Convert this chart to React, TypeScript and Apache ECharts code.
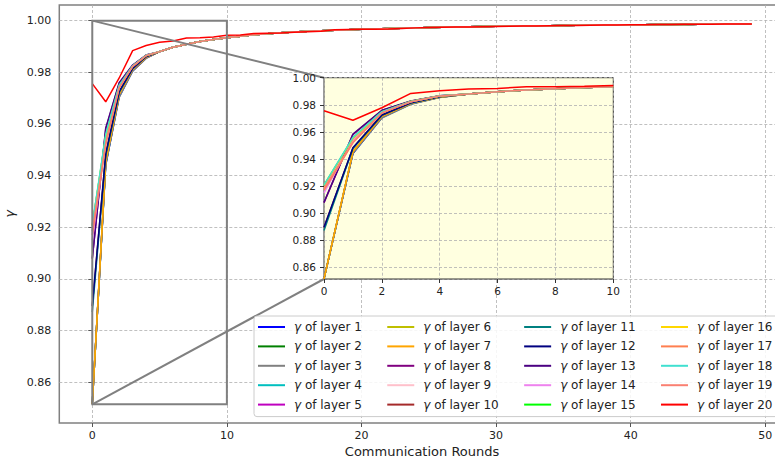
import React, { useEffect, useRef } from "react";
import * as echarts from "echarts";

// ---------- data ----------
const ROUNDS = Array.from({ length: 50 }, (_, i) => i);

const LAYER_NAMES = [
  "γ of layer 1", "γ of layer 2", "γ of layer 3", "γ of layer 4", "γ of layer 5",
  "γ of layer 6", "γ of layer 7", "γ of layer 8", "γ of layer 9", "γ of layer 10",
  "γ of layer 11", "γ of layer 12", "γ of layer 13", "γ of layer 14", "γ of layer 15",
  "γ of layer 16", "γ of layer 17", "γ of layer 18", "γ of layer 19", "γ of layer 20",
];

const LAYER_COLORS = [
  "#0000ff", "#008000", "#808080", "#00bfbf", "#bf00bf",
  "#bfbf00", "#ffa500", "#800080", "#ffc0cb", "#a52a2a",
  "#008080", "#000080", "#4b0082", "#ee82ee", "#00ff00",
  "#ffd700", "#ff7f50", "#40e0d0", "#fa8072", "#ff0000",
];

// rounds 0..4 for layers 1..19
const LAYER_HEADS = [
  [0.8516, 0.9440, 0.9705, 0.9805, 0.9855],
  [0.8516, 0.9445, 0.9708, 0.9807, 0.9856],
  [0.8516, 0.9442, 0.9703, 0.9804, 0.9854],
  [0.8516, 0.9448, 0.9710, 0.9808, 0.9857],
  [0.8516, 0.9450, 0.9712, 0.9809, 0.9857],
  [0.8516, 0.9452, 0.9714, 0.9810, 0.9858],
  [0.8516, 0.9455, 0.9715, 0.9811, 0.9858],
  [0.9078, 0.9580, 0.9758, 0.9827, 0.9867],
  [0.9183, 0.9522, 0.9741, 0.9823, 0.9865],
  [0.8894, 0.9482, 0.9724, 0.9815, 0.9861],
  [0.8872, 0.9478, 0.9722, 0.9814, 0.9860],
  [0.8896, 0.9484, 0.9725, 0.9815, 0.9861],
  [0.9080, 0.9585, 0.9760, 0.9828, 0.9867],
  [0.9150, 0.9540, 0.9745, 0.9823, 0.9865],
  [0.9205, 0.9555, 0.9748, 0.9824, 0.9865],
  [0.9208, 0.9552, 0.9747, 0.9824, 0.9865],
  [0.9170, 0.9520, 0.9740, 0.9822, 0.9864],
  [0.9210, 0.9560, 0.9750, 0.9825, 0.9866],
  [0.9185, 0.9525, 0.9742, 0.9823, 0.9865],
];

// rounds 5..49, shared by layers 1..19 (indistinguishable in the picture)
const COMMON_TAIL = [
  0.9880, 0.9897, 0.9909, 0.9919, 0.9927, 0.9934, 0.9940, 0.9945, 0.9949, 0.9953,
  0.9956, 0.9959, 0.9961, 0.9963, 0.9965, 0.9967, 0.9968, 0.9970, 0.9971, 0.9972,
  0.9973, 0.9974, 0.9975, 0.9976, 0.9977, 0.9978, 0.9978, 0.9979, 0.9980, 0.9980,
  0.9981, 0.9982, 0.9982, 0.9983, 0.9983, 0.9984, 0.9984, 0.9985, 0.9985, 0.9985,
  0.9986, 0.9986, 0.9986, 0.9987, 0.9987,
];

// layer 20, rounds 0..49
const LAYER_20 = [
  0.9756, 0.9686, 0.9778, 0.9884, 0.9904, 0.9916, 0.9921, 0.9933, 0.9934, 0.9937,
  0.9943, 0.9944, 0.9950, 0.9951, 0.9952, 0.9955, 0.9957, 0.9959, 0.9965, 0.9966,
  0.9967, 0.9967, 0.9968, 0.9970, 0.9972, 0.9973, 0.9974, 0.9975, 0.9975, 0.9976,
  0.9977, 0.9978, 0.9979, 0.9979, 0.9980, 0.9981, 0.9981, 0.9982, 0.9983, 0.9983,
  0.9984, 0.9984, 0.9985, 0.9985, 0.9986, 0.9986, 0.9986, 0.9987, 0.9987, 0.9987,
];

const X_TICKS = [0, 10, 20, 30, 40, 50];
const Y_TICKS = [0.86, 0.88, 0.9, 0.92, 0.94, 0.96, 0.98, 1.0];
const INSET_Y_TICKS = [0.86, 0.88, 0.9, 0.92, 0.94, 0.96, 0.98, 1.0];

const MAIN_X_RANGE = [-2.45, 51.45];
const MAIN_Y_RANGE = [0.844245, 1.006055];
const INSET_X_RANGE = [0, 10];
const INSET_Y_RANGE = [0.8515, 1.0];

// ---------- chart ----------
const FONT = "DejaVu Sans";
const GRID_COLOR = "#b0b0b0";

function layerValues(i: number): number[] {
  return i === 19 ? LAYER_20 : [...LAYER_HEADS[i], ...COMMON_TAIL];
}

function buildOption() {
  const series: any[] = [];
  LAYER_NAMES.forEach((name, i) => {
    const vals = layerValues(i);
    const pts = ROUNDS.map((r) => [r, vals[r]]);
    series.push({
      name,
      type: "line",
      xAxisIndex: 0,
      yAxisIndex: 0,
      data: pts,
      symbol: "none",
      color: LAYER_COLORS[i],
      lineStyle: { width: 1.5, color: LAYER_COLORS[i] },
      z: 2,
      silent: true,
    });
  });
  LAYER_NAMES.forEach((name, i) => {
    const vals = layerValues(i);
    const pts = ROUNDS.filter((r) => r <= INSET_X_RANGE[1]).map((r) => [r, vals[r]]);
    series.push({
      name,
      type: "line",
      xAxisIndex: 1,
      yAxisIndex: 1,
      data: pts,
      symbol: "none",
      color: LAYER_COLORS[i],
      lineStyle: { width: 1.5, color: LAYER_COLORS[i] },
      clip: true,
      z: 7,
      silent: true,
    });
  });

  const splitLine = {
    show: true,
    lineStyle: { type: [3, 2], color: GRID_COLOR, width: 0.8 },
  };

  return {
    animation: false,
    backgroundColor: "#ffffff",
    textStyle: { fontFamily: FONT },
    grid: [
      {
        left: 59.3, top: 5, width: 725.5, height: 418,
        containLabel: false, outerBoundsMode: "none",
        show: true, borderColor: "#808080", borderWidth: 1.5,
        backgroundColor: "transparent", z: 0,
      },
      {
        left: 324, top: 77.7, width: 289.3, height: 201.3,
        containLabel: false, outerBoundsMode: "none",
        show: true, borderColor: "#333333", borderWidth: 1,
        backgroundColor: "#ffffe0", z: 5,
      },
    ],
    xAxis: [
      {
        type: "value", gridIndex: 0,
        min: MAIN_X_RANGE[0], max: MAIN_X_RANGE[1],
        name: "Communication Rounds", nameLocation: "middle", nameGap: 22,
        nameTextStyle: { fontSize: 13, color: "#222", fontFamily: FONT },
        axisLine: { show: false },
        axisTick: { show: true, customValues: X_TICKS, length: 4, lineStyle: { color: "#555" } },
        axisLabel: { customValues: X_TICKS, fontSize: 11, color: "#222", margin: 6.5, fontFamily: FONT },
        splitLine,
        z: 0,
      },
      {
        type: "value", gridIndex: 1,
        min: INSET_X_RANGE[0], max: INSET_X_RANGE[1], interval: 2,
        axisLine: { show: false },
        axisTick: { show: true, length: 4, lineStyle: { color: "#333" } },
        axisLabel: { fontSize: 10.5, color: "#222", margin: 6, fontFamily: FONT },
        splitLine,
        z: 6,
      },
    ],
    yAxis: [
      {
        type: "value", gridIndex: 0,
        min: MAIN_Y_RANGE[0], max: MAIN_Y_RANGE[1],
        name: "γ", nameLocation: "middle", nameGap: 33,
        nameTextStyle: { fontSize: 13, color: "#222", fontStyle: "italic", fontFamily: FONT },
        axisLine: { show: false },
        axisTick: { show: true, customValues: Y_TICKS, length: 4, lineStyle: { color: "#555" } },
        axisLabel: {
          customValues: Y_TICKS, fontSize: 11, color: "#222", margin: 8, fontFamily: FONT,
          formatter: (v: number) => v.toFixed(2),
        },
        splitLine,
        z: 0,
      },
      {
        type: "value", gridIndex: 1,
        min: INSET_Y_RANGE[0], max: INSET_Y_RANGE[1],
        axisLine: { show: false },
        axisTick: { show: true, customValues: INSET_Y_TICKS, length: 4, lineStyle: { color: "#333" } },
        axisLabel: {
          customValues: INSET_Y_TICKS, fontSize: 10.5, color: "#222", margin: 8, fontFamily: FONT,
          formatter: (v: number) => v.toFixed(2),
        },
        splitLine,
        z: 6,
      },
    ],
    legend: {
      orient: "vertical",
      left: 254, top: 316, height: 95,
      padding: [4, 4, 5, 4],
      itemGap: 5.4, itemWidth: 27, itemHeight: 2, icon: "rect",
      backgroundColor: "rgba(255,255,255,0.85)",
      borderColor: "#cccccc", borderWidth: 1, borderRadius: 3,
      selectedMode: false,
      data: LAYER_NAMES,
      formatter: (name: string) => "{g|γ}" + name.slice(1),
      textStyle: {
        fontSize: 12, color: "#222", fontFamily: FONT, lineHeight: 14,
        padding: [0, 20, 0, 4],
        rich: { g: { fontStyle: "italic", fontSize: 12, fontFamily: FONT, color: "#222" } },
      },
      z: 8,
    },
    series,
  };
}

export default function App() {
  const ref = useRef<HTMLDivElement>(null);
  useEffect(() => {
    if (!ref.current) return;
    const chart = echarts.init(ref.current, null, { renderer: "svg" });
    chart.setOption(buildOption() as any);

    const mainFinder = { xAxisIndex: 0, yAxisIndex: 0 };
    const insetFinder = { xAxisIndex: 1, yAxisIndex: 1 };
    const rTL = chart.convertToPixel(mainFinder, [INSET_X_RANGE[0], INSET_Y_RANGE[1]]) as number[];
    const rBR = chart.convertToPixel(mainFinder, [INSET_X_RANGE[1], INSET_Y_RANGE[0]]) as number[];
    const rBL = chart.convertToPixel(mainFinder, [INSET_X_RANGE[0], INSET_Y_RANGE[0]]) as number[];
    const iTL = chart.convertToPixel(insetFinder, [INSET_X_RANGE[0], INSET_Y_RANGE[1]]) as number[];
    const iBL = chart.convertToPixel(insetFinder, [INSET_X_RANGE[0], INSET_Y_RANGE[0]]) as number[];
    const stroke = { stroke: "#808080", lineWidth: 2, fill: "none" };
    chart.setOption({
      graphic: {
        elements: [
          {
            type: "rect", z: 4, silent: true,
            shape: { x: rTL[0], y: rTL[1], width: rBR[0] - rTL[0], height: rBR[1] - rTL[1] },
            style: stroke,
          },
          {
            type: "line", z: 4, silent: true,
            shape: { x1: rTL[0], y1: rTL[1], x2: iTL[0], y2: iTL[1] },
            style: stroke,
          },
          {
            type: "line", z: 4, silent: true,
            shape: { x1: rBL[0], y1: rBL[1], x2: iBL[0], y2: iBL[1] },
            style: stroke,
          },
        ],
      },
    });
    return () => chart.dispose();
  }, []);
  return (
    <div style={{ position: "fixed", left: 0, top: 0, width: 775, height: 466, overflow: "hidden", background: "#fff" }}>
      <div ref={ref} style={{ width: 790, height: 466 }} />
    </div>
  );
}
